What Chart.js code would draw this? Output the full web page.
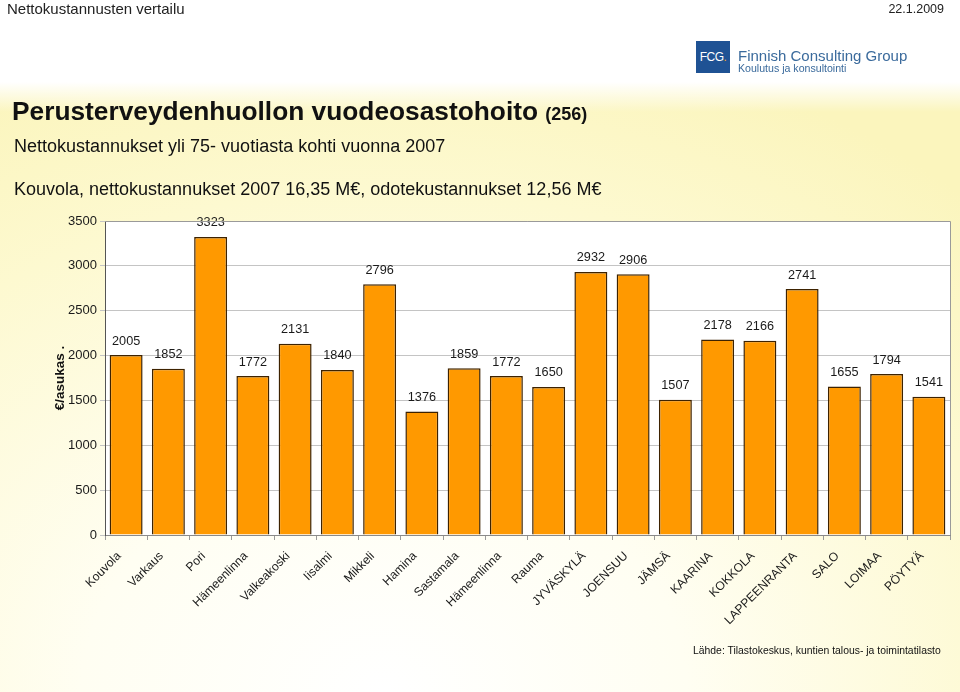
<!DOCTYPE html>
<html>
<head>
<meta charset="utf-8">
<script src="https://cdn.jsdelivr.net/npm/chart.js@4/dist/chart.umd.min.js"></script>
<style>
  html, body { margin:0; padding:0; }
  body { width:960px; height:692px; position:relative; overflow:hidden; background:#ffffff; font-family:"Liberation Sans", Arial, sans-serif; color:#111; }
  #bg { position:absolute; left:0; top:82px; width:960px; height:610px;
        background: radial-gradient(ellipse 90% 110% at 40% 100%, #ffffff 0%, #fffef2 35%, #fdf9d0 75%, #fbf5bd 100%); }
  #bgfade { position:absolute; left:0; top:82px; width:960px; height:30px; background:linear-gradient(#ffffff, rgba(255,255,255,0)); }
  .t { position:absolute; white-space:nowrap; }
  canvas { position:absolute; left:0; top:0; }
  #logo { position:absolute; left:696px; top:41px; width:34px; height:32px; background:#1f5294; color:#fff; font-size:12px; line-height:32px; text-align:center; letter-spacing:-0.5px; }
</style>
</head>
<body>
<div id="bg"></div>
<div id="bgfade"></div>
<canvas id="c" width="960" height="692"></canvas>
<div class="t" style="left:7px;top:1px;font-size:15px;line-height:16px;color:#222;">Nettokustannusten vertailu</div>
<div class="t" style="right:16px;top:2px;font-size:12.5px;line-height:15px;color:#222;">22.1.2009</div>
<div id="logo">FCG<span style="color:#f0a020">.</span></div>
<div class="t" style="left:738px;top:48px;font-size:15px;line-height:16px;color:#3a6a9c;">Finnish Consulting Group</div>
<div class="t" style="left:738px;top:63px;font-size:10.6px;line-height:11px;color:#3a6a9c;">Koulutus ja konsultointi</div>
<div class="t" style="left:12px;top:97px;font-size:26.3px;line-height:28px;font-weight:bold;color:#111;">Perusterveydenhuollon vuodeosastohoito <span style="font-size:18px;">(256)</span></div>
<div class="t" style="left:14px;top:136px;font-size:18px;line-height:20px;color:#111;">Nettokustannukset yli 75- vuotiasta kohti vuonna 2007</div>
<div class="t" style="left:14px;top:179px;font-size:18px;line-height:20px;color:#111;">Kouvola, nettokustannukset 2007 16,35 M€, odotekustannukset 12,56 M€</div>
<div class="t" style="left:693px;top:645px;font-size:10.4px;line-height:12px;color:#111;">Lähde: Tilastokeskus, kuntien talous- ja toimintatilasto</div>
<script>
const categories = ["Kouvola","Varkaus","Pori","Hämeenlinna","Valkeakoski","Iisalmi","Mikkeli","Hamina","Sastamala","Hämeenlinna","Rauma","JYVÄSKYLÄ","JOENSUU","JÄMSÄ","KAARINA","KOKKOLA","LAPPEENRANTA","SALO","LOIMAA","PÖYTYÄ"];
const costs = [2005,1852,3323,1772,2131,1840,2796,1376,1859,1772,1650,2932,2906,1507,2178,2166,2741,1655,1794,1541];
const yTicks = [0,500,1000,1500,2000,2500,3000,3500];
const yAxisTitle = "€/asukas .";

const FONT = '"Liberation Sans", Arial, sans-serif';

const areaPlugin = {
  id: 'area',
  beforeDraw(chart) {
    const {ctx, chartArea: a} = chart;
    ctx.save();
    ctx.fillStyle = '#ffffff';
    ctx.fillRect(a.left, a.top, a.right - a.left, a.bottom - a.top);
    ctx.restore();
  },
  afterDraw(chart) {
    const {ctx, chartArea: a} = chart;
    ctx.save();
    ctx.strokeStyle = '#9a9a9a';
    ctx.lineWidth = 1;
    ctx.beginPath();
    ctx.moveTo(a.left, a.top + 0.5);
    ctx.lineTo(a.right + 0.5, a.top + 0.5);
    ctx.lineTo(a.right + 0.5, a.bottom);
    ctx.stroke();
    ctx.restore();
  }
};

const labelPlugin = {
  id: 'vals',
  afterDatasetsDraw(chart) {
    const {ctx} = chart;
    const meta = chart.getDatasetMeta(0);
    ctx.save();
    ctx.font = '12.7px ' + FONT;
    ctx.fillStyle = '#1a1a1a';
    ctx.textAlign = 'center';
    ctx.textBaseline = 'middle';
    meta.data.forEach((bar, i) => {
      ctx.fillText(String(costs[i]), bar.x, bar.y - 14);
    });
    ctx.restore();
  }
};

new Chart(document.getElementById('c'), {
  type: 'bar',
  data: {
    labels: categories,
    datasets: [{
      data: costs,
      backgroundColor: '#ff9900',
      borderColor: '#3d2200',
      borderWidth: 1.5,
      categoryPercentage: 0.78,
      barPercentage: 1.0
    }]
  },
  options: {
    responsive: false,
    animation: false,
    devicePixelRatio: 1,
    layout: { padding: { left: 0, right: 10, top: 221, bottom: 0 } },
    plugins: { legend: { display: false }, tooltip: { enabled: false } },
    scales: {
      x: {
        afterFit(s) { s.height = 157; },
        grid: { display: true, drawOnChartArea: false, drawTicks: true, tickLength: 5, color: '#9a9a9a', offset: true },
        border: { display: true, color: '#8a8a8a', width: 1 },
        ticks: {
          autoSkip: false, minRotation: 45, maxRotation: 45, padding: 9, labelOffset: -7,
          font: { family: FONT, size: 12.2 }, color: '#1a1a1a'
        }
      },
      y: {
        min: 0, max: 3500,
        afterFit(s) { s.width = 105; },
        afterBuildTicks(s) { s.ticks = yTicks.map(v => ({ value: v })); },
        grid: { color: '#c4c4c4', drawTicks: true, tickLength: 5, lineWidth: 1 },
        border: { display: true, color: '#555555', width: 1 },
        ticks: { padding: 3, font: { family: FONT, size: 13 }, color: '#1a1a1a', callback: v => String(v) },
        title: { display: true, text: yAxisTitle, font: { family: FONT, size: 13.5, weight: 'bold' }, color: '#111', padding: { top: 52, bottom: 0 } }
      }
    }
  },
  plugins: [areaPlugin, labelPlugin]
});
</script>
</body>
</html>
